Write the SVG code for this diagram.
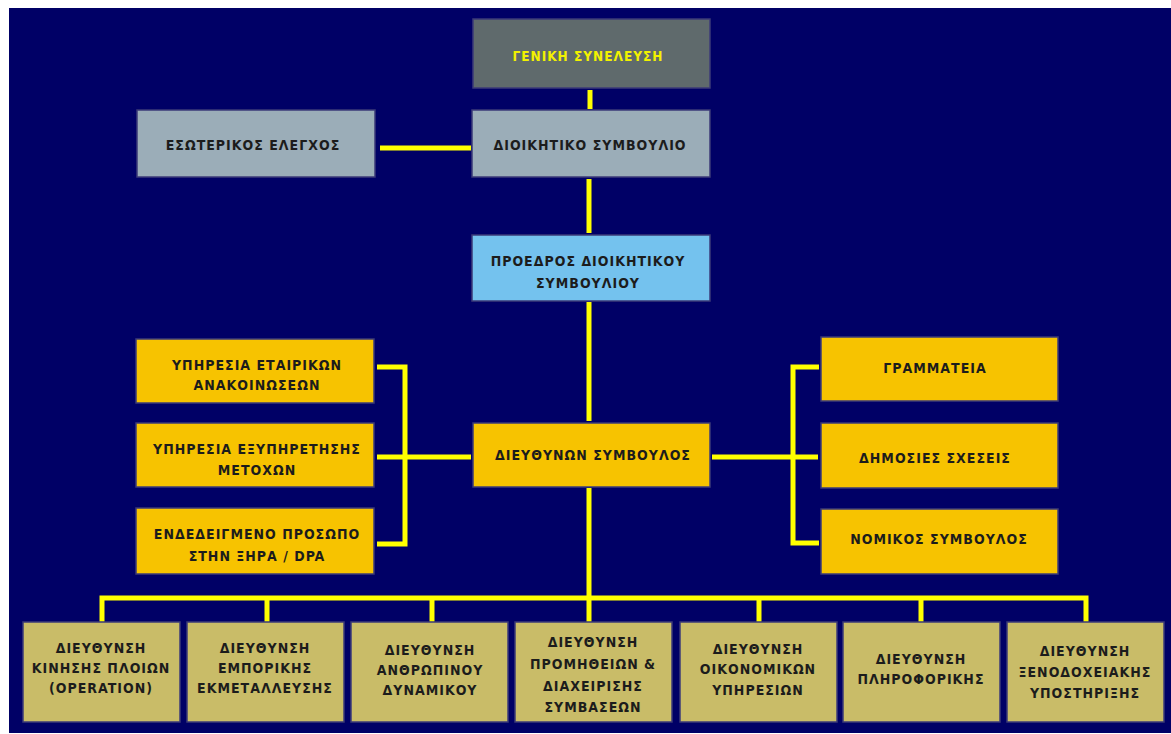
<svg xmlns="http://www.w3.org/2000/svg" width="1171" height="734" viewBox="0 0 1171 734">
<style>
.box{stroke:#3b3a78;stroke-width:1.5}
.gray{fill:#5f6a6c}
.lgray{fill:#9badb8}
.lblue{fill:#74c2ee}
.orange{fill:#f7c300}
.khaki{fill:#c9bc68}
text{font-family:"DejaVu Sans Condensed","DejaVu Sans",sans-serif;font-stretch:condensed;font-weight:bold;font-size:14px;letter-spacing:1px;fill:#1c1c1c;text-anchor:middle;dominant-baseline:central}
.yt{fill:#f2f200;font-size:13.5px}
.conn{stroke:#ffff00;stroke-width:5;fill:none;stroke-linejoin:miter;stroke-linecap:butt}
</style>
<rect x="0" y="0" width="1171" height="734" fill="#ffffff"/>
<rect x="9" y="8" width="1162" height="725" fill="#000066"/>
<g id="connectors" class="conn">
<path d="M590 90V109"/>
<path d="M380 148H471"/>
<path d="M589 179V233"/>
<path d="M589 302V421"/>
<path d="M377 367H405V544H377"/>
<path d="M377 457H471"/>
<path d="M712 457H818"/>
<path d="M819 367H793V543H819"/>
<path d="M589 488V598"/>
<path d="M102 622V598H1086V622"/>
<path d="M267 598V622"/>
<path d="M432 598V622"/>
<path d="M589 598V622"/>
<path d="M759 598V622"/>
<path d="M921 598V622"/>
</g>
<g id="n-geniki"><rect class="box gray" x="473" y="19" width="237" height="69"/><text class="yt" x="588" y="56">ΓΕΝΙΚΗ ΣΥΝΕΛΕΥΣΗ</text></g>
<g id="n-esoterikos"><rect class="box lgray" x="137" y="110" width="238" height="67"/><text x="253" y="145">ΕΣΩΤΕΡΙΚΟΣ ΕΛΕΓΧΟΣ</text></g>
<g id="n-dioikitiko"><rect class="box lgray" x="472" y="110" width="238" height="67"/><text x="590" y="145">ΔΙΟΙΚΗΤΙΚΟ ΣΥΜΒΟΥΛΙΟ</text></g>
<g id="n-proedros"><rect class="box lblue" x="472" y="235" width="238" height="66"/><text x="588" y="261">ΠΡΟΕΔΡΟΣ ΔΙΟΙΚΗΤΙΚΟΥ</text><text x="588" y="283">ΣΥΜΒΟΥΛΙΟΥ</text></g>
<g id="n-ceo"><rect class="box orange" x="473" y="423" width="237" height="64"/><text x="593" y="455">ΔΙΕΥΘΥΝΩΝ ΣΥΜΒΟΥΛΟΣ</text></g>
<g id="n-etairikon"><rect class="box orange" x="136" y="339" width="238" height="64"/><text x="257" y="365">ΥΠΗΡΕΣΙΑ ΕΤΑΙΡΙΚΩΝ</text><text x="257" y="385">ΑΝΑΚΟΙΝΩΣΕΩΝ</text></g>
<g id="n-metoxon"><rect class="box orange" x="136" y="423" width="238" height="64"/><text x="257" y="449">ΥΠΗΡΕΣΙΑ ΕΞΥΠΗΡΕΤΗΣΗΣ</text><text x="257" y="470">ΜΕΤΟΧΩΝ</text></g>
<g id="n-dpa"><rect class="box orange" x="136" y="508" width="238" height="66"/><text x="257" y="534">ΕΝΔΕΔΕΙΓΜΕΝΟ ΠΡΟΣΩΠΟ</text><text x="257" y="556">ΣΤΗΝ ΞΗΡΑ / DPA</text></g>
<g id="n-grammateia"><rect class="box orange" x="821" y="337" width="237" height="64"/><text x="935" y="368">ΓΡΑΜΜΑΤΕΙΑ</text></g>
<g id="n-dimosies"><rect class="box orange" x="821" y="423" width="237" height="65"/><text x="935" y="458">ΔΗΜΟΣΙΕΣ ΣΧΕΣΕΙΣ</text></g>
<g id="n-nomikos"><rect class="box orange" x="821" y="509" width="237" height="65"/><text x="939" y="539">ΝΟΜΙΚΟΣ ΣΥΜΒΟΥΛΟΣ</text></g>
<g id="n-d1"><rect class="box khaki" x="23" y="622" width="157" height="100"/><text x="101" y="648">ΔΙΕΥΘΥΝΣΗ</text><text x="101" y="668">ΚΙΝΗΣΗΣ ΠΛΟΙΩΝ</text><text x="101" y="688">(OPERATION)</text></g>
<g id="n-d2"><rect class="box khaki" x="187" y="622" width="157" height="100"/><text x="265" y="648">ΔΙΕΥΘΥΝΣΗ</text><text x="265" y="668">ΕΜΠΟΡΙΚΗΣ</text><text x="265" y="688">ΕΚΜΕΤΑΛΛΕΥΣΗΣ</text></g>
<g id="n-d3"><rect class="box khaki" x="351" y="622" width="157" height="100"/><text x="430" y="650">ΔΙΕΥΘΥΝΣΗ</text><text x="430" y="670">ΑΝΘΡΩΠΙΝΟΥ</text><text x="430" y="690">ΔΥΝΑΜΙΚΟΥ</text></g>
<g id="n-d4"><rect class="box khaki" x="515" y="622" width="157" height="100"/><text x="593" y="642">ΔΙΕΥΘΥΝΣΗ</text><text x="593" y="664">ΠΡΟΜΗΘΕΙΩΝ &amp;</text><text x="593" y="686">ΔΙΑΧΕΙΡΙΣΗΣ</text><text x="593" y="707">ΣΥΜΒΑΣΕΩΝ</text></g>
<g id="n-d5"><rect class="box khaki" x="680" y="622" width="157" height="100"/><text x="758" y="649">ΔΙΕΥΘΥΝΣΗ</text><text x="758" y="669">ΟΙΚΟΝΟΜΙΚΩΝ</text><text x="758" y="690">ΥΠΗΡΕΣΙΩΝ</text></g>
<g id="n-d6"><rect class="box khaki" x="843" y="622" width="157" height="100"/><text x="921" y="659">ΔΙΕΥΘΥΝΣΗ</text><text x="921" y="679">ΠΛΗΡΟΦΟΡΙΚΗΣ</text></g>
<g id="n-d7"><rect class="box khaki" x="1007" y="622" width="157" height="100"/><text x="1085" y="651">ΔΙΕΥΘΥΝΣΗ</text><text x="1085" y="672">ΞΕΝΟΔΟΧΕΙΑΚΗΣ</text><text x="1085" y="693">ΥΠΟΣΤΗΡΙΞΗΣ</text></g>
</svg>
